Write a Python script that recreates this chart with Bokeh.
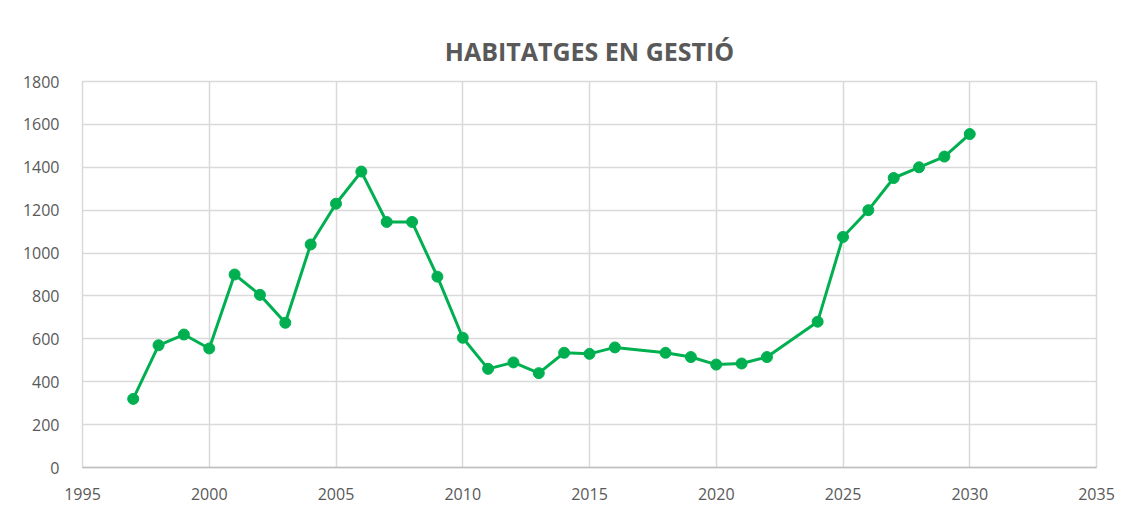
from bokeh.plotting import figure
from bokeh.models import Range1d, FixedTicker
from bokeh.embed import file_html
from bokeh.resources import INLINE

years = [1997, 1998, 1999, 2000, 2001, 2002, 2003, 2004, 2005, 2006, 2007, 2008,
         2009, 2010, 2011, 2012, 2013, 2014, 2015, 2016, 2018, 2019, 2020, 2021,
         2022, 2024, 2025, 2026, 2027, 2028, 2029, 2030]
habitatges = [320, 570, 620, 555, 900, 805, 675, 1040, 1230, 1380, 1145, 1145,
              890, 605, 460, 490, 440, 535, 530, 560, 535, 515, 480, 485,
              515, 680, 1075, 1200, 1350, 1400, 1450, 1555]
x_ticks = [1995, 2000, 2005, 2010, 2015, 2020, 2025, 2030, 2035]
y_ticks = [0, 200, 400, 600, 800, 1000, 1200, 1400, 1600, 1800]

GREEN = "#00B050"
GRID = "#D9D9D9"
TXT = "#595959"

p = figure(width=1122, height=519, output_backend="svg", toolbar_location=None,
           x_range=Range1d(1995, 2035), y_range=Range1d(0, 1800),
           min_border_left=82, min_border_right=26, min_border_top=81,
           min_border_bottom=52)

p.title.text = "HABITATGES EN GESTIÓ"
p.title.align = "center"
p.title.text_font = "Open Sans"
p.title.text_font_style = "bold"
p.title.text_font_size = "25px"
p.title.text_color = TXT
p.title.offset = 0
p.title.standoff = 28

p.line(years, habitatges, line_color=GREEN, line_width=3)
p.scatter(years, habitatges, size=11, fill_color=GREEN, line_color=GREEN)

p.xaxis.ticker = FixedTicker(ticks=x_ticks)
p.yaxis.ticker = FixedTicker(ticks=y_ticks)
for ax in (p.xaxis, p.yaxis):
    ax.major_tick_line_color = None
    ax.minor_tick_line_color = None
    ax.major_label_text_font = "Open Sans"
    ax.major_label_text_font_size = "16px"
    ax.major_label_text_color = TXT
p.yaxis.axis_line_color = None
p.xaxis.axis_line_color = "#BFBFBF"
p.xaxis.axis_line_width = 1.5
p.yaxis.major_label_standoff = 17
p.xaxis.major_label_standoff = 14

p.xgrid.grid_line_color = GRID
p.ygrid.grid_line_color = GRID
p.xgrid.grid_line_width = 1.5
p.ygrid.grid_line_width = 1.5
p.outline_line_color = GRID
p.outline_line_width = 1.5

open("out.html", "w").write(file_html(p, INLINE))
